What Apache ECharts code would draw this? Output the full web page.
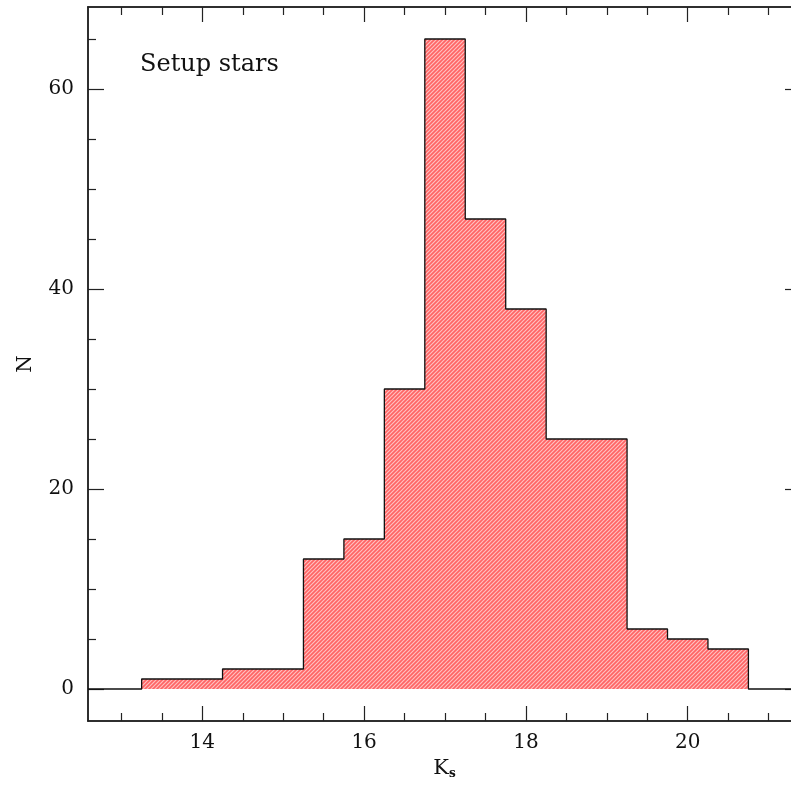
<!DOCTYPE html>
<html>
<head>
<meta charset="utf-8">
<script src="https://cdn.jsdelivr.net/npm/echarts@6/dist/echarts.min.js"></script>
<style>
  html, body { margin: 0; padding: 0; background: #fff; }
  #main { width: 791px; height: 787px; }
</style>
</head>
<body>
<div id="main"></div>
<script>
// histogram bins (left edges, width 0.5) and counts
const binEdges = [13.25, 13.75, 14.25, 14.75, 15.25, 15.75, 16.25, 16.75, 17.25, 17.75, 18.25, 18.75, 19.25, 19.75, 20.25, 20.75];
const counts = [1, 1, 2, 2, 13, 15, 30, 65, 47, 38, 25, 25, 6, 5, 4];
const xMajor = [14, 16, 18, 20];
const xMinor = [13, 13.5, 14.5, 15, 15.5, 16.5, 17, 17.5, 18.5, 19, 19.5, 20.5, 21];
const yMajor = [0, 20, 40, 60];
const yMinor = [5, 10, 15, 25, 30, 35, 45, 50, 55, 65];

const xMin = 12.587, xMax = 21.4;
const yMin = -3.2, yMax = 68.2;

// step outline points
const steps = [[xMin, 0]];
counts.forEach((c, i) => steps.push([binEdges[i], c]));
steps.push([binEdges[binEdges.length - 1], 0]);
steps.push([xMax, 0]);

// hatch pattern
const pat = document.createElement('canvas');
pat.width = 4; pat.height = 4;
const g = pat.getContext('2d');
g.fillStyle = '#ff6464';
g.fillRect(0, 0, 4, 4);
g.strokeStyle = '#ffc0c0';
g.lineWidth = 1.2;
g.beginPath();
g.moveTo(0, 4); g.lineTo(4, 0);
g.moveTo(-1, 1); g.lineTo(1, -1);
g.moveTo(3, 5); g.lineTo(5, 3);
g.stroke();

const font = 'DejaVu Serif';
const lineC = '#222';

function xAx(pos, ticks, len, labels) {
  return {
    type: 'value', position: pos, min: xMin, max: xMax,
    axisLine: { show: true, onZero: false, lineStyle: { color: lineC, width: 1.5 } },
    axisTick: { show: true, inside: true, length: len, customValues: ticks, lineStyle: { color: lineC, width: 1.2 } },
    axisLabel: labels ? { customValues: ticks, margin: 12, fontFamily: font, fontSize: 20, color: '#111' } : { show: false },
    splitLine: { show: false }
  };
}
function yAx(pos, ticks, len, labels) {
  return {
    type: 'value', position: pos, min: yMin, max: yMax,
    axisLine: { show: true, onZero: false, lineStyle: { color: lineC, width: 1.5 } },
    axisTick: { show: true, inside: true, length: len, customValues: ticks, lineStyle: { color: lineC, width: 1.2 } },
    axisLabel: labels ? { customValues: ticks, margin: 14, fontFamily: font, fontSize: 20, color: '#111' } : { show: false },
    splitLine: { show: false }
  };
}

const xAxes = [
  xAx('bottom', xMajor, 15, true),
  xAx('bottom', xMinor, 8, false),
  xAx('top', xMajor, 15, false),
  xAx('top', xMinor, 8, false)
];
Object.assign(xAxes[0], {
  name: '{k|K}{s|s}', nameLocation: 'middle', nameGap: 36,
  nameTextStyle: {
    rich: {
      k: { fontFamily: font, fontSize: 21, color: '#111' },
      s: { fontFamily: font, fontSize: 12, fontWeight: 'bold', color: '#111', padding: [10, 0, 0, 0] }
    }
  }
});
const yAxes = [
  yAx('left', yMajor, 16, true),
  yAx('left', yMinor, 8, false),
  yAx('right', yMajor, 16, false),
  yAx('right', yMinor, 8, false)
];
Object.assign(yAxes[0], {
  name: 'N', nameLocation: 'middle', nameGap: 52, nameRotate: 90,
  nameTextStyle: { fontFamily: font, fontSize: 20, color: '#111' }
});

const chart = echarts.init(document.getElementById('main'), null, { renderer: 'canvas' });
chart.setOption({
  animation: false,
  backgroundColor: '#fff',
  title: {
    text: 'Setup stars', left: 135, top: 48,
    textStyle: { fontFamily: font, fontSize: 24, fontWeight: 'normal', color: '#111' }
  },
  grid: { left: 88, top: 7, width: 713, height: 714, containLabel: false, outerBoundsMode: 'none' },
  xAxis: xAxes,
  yAxis: yAxes,
  series: [{
    type: 'line',
    xAxisIndex: 0, yAxisIndex: 0,
    step: 'end',
    data: steps,
    symbol: 'none',
    lineStyle: { color: '#111', width: 1.3 },
    areaStyle: { origin: 0, opacity: 1, color: { image: pat, repeat: 'repeat' } }
  }]
});
</script>
</body>
</html>
